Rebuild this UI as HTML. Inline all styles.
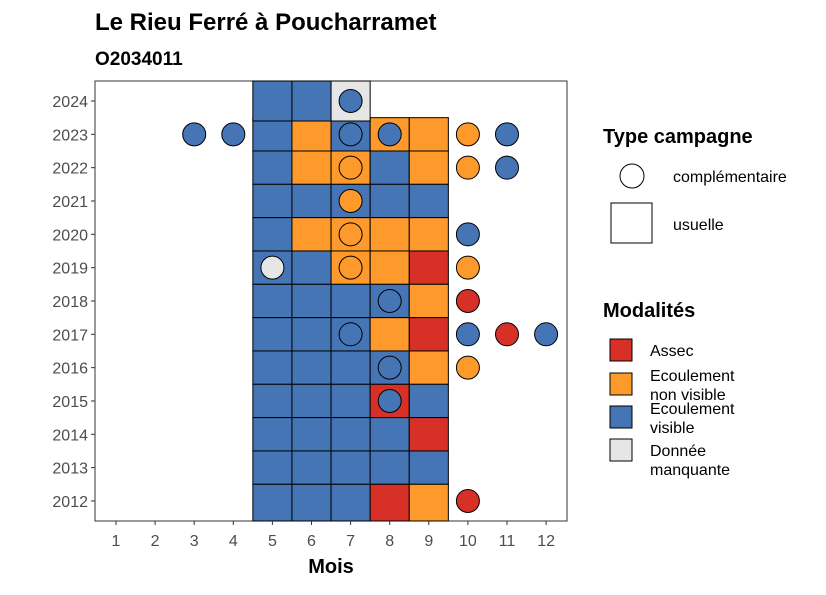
<!DOCTYPE html>
<html><head><meta charset="utf-8"><style>
body{margin:0;background:#fff;font-family:"Liberation Sans",sans-serif}
</style></head><body>
<svg id="chart" width="826" height="590" xmlns="http://www.w3.org/2000/svg" font-family="Liberation Sans, sans-serif">
<text x="95" y="30" font-size="24" font-weight="bold">Le Rieu Ferré à Poucharramet</text>
<text x="95" y="65" font-size="19" font-weight="bold">O2034011</text>
<rect x="95" y="81" width="472" height="440" fill="#fff" stroke="#333" stroke-width="1"/>
<g id="tiles"></g><g id="points"></g><g id="axes"></g>
<text x="331" y="573" font-size="20" font-weight="bold" text-anchor="middle">Mois</text>
<g>
<text x="603" y="143" font-size="20" font-weight="bold">Type campagne</text>
<circle cx="632" cy="176" r="12" fill="#fff" stroke="#000"/>
<text x="673" y="182" font-size="16">complémentaire</text>
<rect x="611" y="203" width="41" height="40" fill="#fff" stroke="#000"/>
<text x="673" y="230" font-size="16">usuelle</text>
</g>
<g>
<text x="603" y="317" font-size="20" font-weight="bold">Modalités</text>
<rect x="610" y="339" width="22" height="22" fill="#d73027" stroke="#000"/>
<text x="650" y="356" font-size="16">Assec</text>
<rect x="610" y="373" width="22" height="22" fill="#fd9a2b" stroke="#000"/>
<text x="650" y="381" font-size="16">Ecoulement</text><text x="650" y="400" font-size="16">non visible</text>
<rect x="610" y="406" width="22" height="22" fill="#4575b4" stroke="#000"/>
<text x="650" y="414" font-size="16">Ecoulement</text><text x="650" y="433" font-size="16">visible</text>
<rect x="610" y="439" width="22" height="22" fill="#e6e6e6" stroke="#000"/>
<text x="650" y="456" font-size="16">Donnée</text><text x="650" y="475" font-size="16">manquante</text>
</g>
</svg>
<script>
const years=[2024,2023,2022,2021,2020,2019,2018,2017,2016,2015,2014,2013,2012];
const months=[1,2,3,4,5,6,7,8,9,10,11,12];
const tileYears=[2023,2023,2023,2023,2023,2022,2022,2022,2022,2022,2021,2021,2021,2021,2021,2020,2020,2020,2020,2020,2019,2019,2019,2019,2019,2018,2018,2018,2018,2018,2017,2017,2017,2017,2017,2016,2016,2016,2016,2016,2015,2015,2015,2015,2015,2014,2014,2014,2014,2014,2013,2013,2013,2013,2013,2012,2012,2012,2012,2012,2024,2024,2024];
const tileMonths=[5,6,7,8,9,5,6,7,8,9,5,6,7,8,9,5,6,7,8,9,5,6,7,8,9,5,6,7,8,9,5,6,7,8,9,5,6,7,8,9,5,6,7,8,9,5,6,7,8,9,5,6,7,8,9,5,6,7,8,9,5,6,7];
const tileMods="BOBOO"+"BOOBO"+"BBBBB"+"BOOOO"+"BBOOR"+"BBBBO"+"BBBOR"+"BBBBO"+"BBBRB"+"BBBBR"+"BBBBB"+"BBBRO"+"BBG";
const ptYears=[2024,2023,2023,2023,2023,2023,2023,2022,2022,2022,2021,2020,2020,2019,2019,2019,2018,2018,2017,2017,2017,2017,2016,2016,2015,2012];
const ptMonths=[7,3,4,7,8,10,11,7,10,11,7,7,10,5,7,10,8,10,7,10,11,12,8,10,8,10];
const ptMods="BBBBBOBOOBOOBGOOBRBBRBBOBR";
const col={B:"#4575b4",O:"#fd9a2b",R:"#d73027",G:"#e6e6e6"};
const NS="http://www.w3.org/2000/svg";
const xs=m=>116+(m-1)*39.1, ys=y=>101+(2024-y)*33.33;
const yMax=Math.max(...years), yMin=Math.min(...years);
function mk(t,a,p){const e=document.createElementNS(NS,t);for(const k in a)e.setAttribute(k,a[k]);p.appendChild(e);return e;}
const T=document.getElementById('tiles'),P=document.getElementById('points'),A=document.getElementById('axes');
tileYears.forEach((y,i)=>{
let top=ys(y)-16.67, bot=ys(y)+16.67;
if(y===yMax){top=81;bot=ys(y)+20;}
if(y===yMin){bot=521;}
const e=mk('rect',{x:xs(tileMonths[i])-19.55,y:top,width:39.1,height:bot-top,fill:col[tileMods[i]],stroke:'#000','stroke-width':1},T);

});
ptYears.forEach((y,i)=>{const e=mk('circle',{cx:xs(ptMonths[i]),cy:ys(y),r:11.5,fill:col[ptMods[i]],stroke:'#000','stroke-width':1},P);

});
months.forEach(m=>{mk('line',{x1:xs(m),x2:xs(m),y1:521,y2:525,stroke:'#333'},A);
const t=mk('text',{x:xs(m),y:546,'font-size':16,fill:'#4d4d4d','text-anchor':'middle'},A);t.textContent=m;

});
years.forEach(y=>{mk('line',{x1:91,x2:95,y1:ys(y),y2:ys(y),stroke:'#333'},A);
const t=mk('text',{x:88,y:ys(y)+6,'font-size':16,fill:'#4d4d4d','text-anchor':'end'},A);t.textContent=y;

});
</script>
</body></html>
